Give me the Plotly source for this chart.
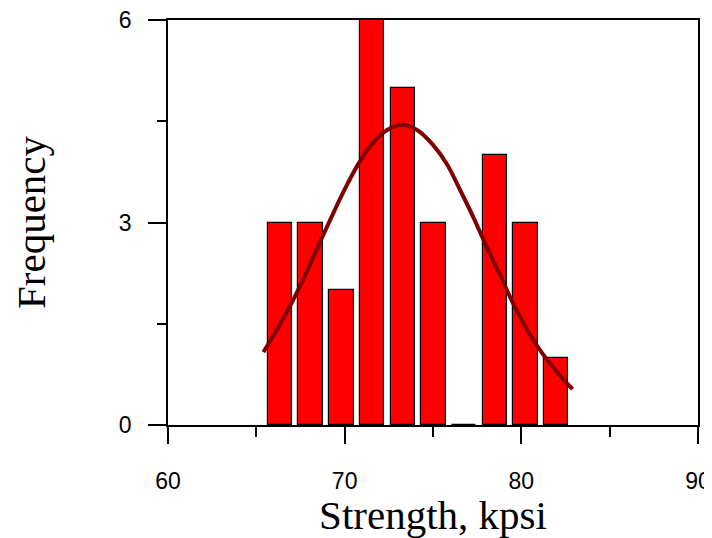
import plotly.graph_objects as go

# Histogram bins (centres, kpsi) and counts
bin_centers = [66.33, 68.07, 69.81, 71.55, 73.29, 75.02, 76.76, 78.50, 80.24, 81.97]
counts = [3, 3, 2, 6, 5, 3, 0, 4, 3, 1]
bar_width = 1.38

# Fitted normal curve
curve_x = [65.4, 66.2, 67.0, 67.8, 68.5, 69.2, 70.0, 70.8, 71.5, 72.4, 73.26, 74.1, 75.0, 75.8, 76.5, 77.3, 78.0, 78.8, 79.5, 80.2, 81.0, 82.0, 82.9]
curve_y = [1.08, 1.43, 1.81, 2.24, 2.65, 3.05, 3.49, 3.88, 4.15, 4.37, 4.45, 4.37, 4.15, 3.86, 3.50, 3.07, 2.66, 2.22, 1.82, 1.47, 1.13, 0.79, 0.53]

x_ticks = [60, 70, 80, 90]
y_ticks = [0, 3, 6]

fig = go.Figure()
fig.add_trace(go.Bar(
    x=bin_centers, y=counts, width=bar_width,
    marker=dict(color="#FF0000", line=dict(color="black", width=1.2)),
    showlegend=False,
))
fig.add_trace(go.Scatter(
    x=curve_x, y=curve_y, mode="lines",
    line=dict(color="#800000", width=4, shape="spline"),
    showlegend=False,
))

tickfont = dict(family="Liberation Sans, Arial", size=23, color="black")
titlefont = dict(family="Liberation Serif, Times New Roman", size=41, color="black")

fig.update_xaxes(
    range=[60, 90], tickvals=x_ticks, ticks="outside", ticklen=17, tickwidth=1.5,
    tickcolor="black", showline=True, linecolor="black", linewidth=1.5, mirror=True,
    showgrid=False, zeroline=False, tickfont=tickfont, ticklabelstandoff=18,
    automargin=False, ticklabeloverflow="allow",
    minor=dict(tickvals=[65, 75, 85], ticks="outside", ticklen=10, tickwidth=1.5, tickcolor="black"),
    title=dict(text="Strength, kpsi", font=titlefont, standoff=2),
)
fig.update_yaxes(
    range=[0, 6], tickvals=y_ticks, ticks="outside", ticklen=18, tickwidth=1.5,
    tickcolor="black", showline=True, linecolor="black", linewidth=1.5, mirror=True,
    showgrid=False, zeroline=False, tickfont=tickfont, ticklabelstandoff=12,
    automargin=False, ticklabeloverflow="allow",
    minor=dict(tickvals=[1.5, 4.5], ticks="outside", ticklen=9, tickwidth=1.5, tickcolor="black"),
    title=dict(text="Frequency", font=titlefont, standoff=65),
)

# The page body adds an 8px margin, so the figure is 8px smaller on each side
fig.update_layout(
    width=704, height=530,
    margin=dict(l=160, r=14, t=12, b=113),
    paper_bgcolor="white", plot_bgcolor="white",
    bargap=0,
)

fig.write_html("out.html")
